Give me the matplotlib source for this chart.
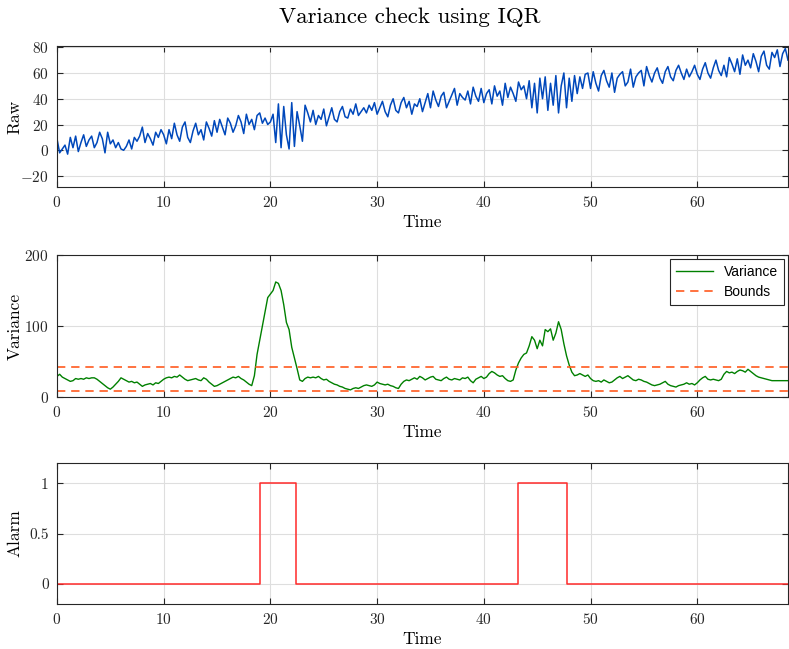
import numpy as np
import matplotlib
matplotlib.use('Agg')
import matplotlib.pyplot as plt

plt.rcParams['font.family'] = 'serif'
plt.rcParams['font.serif'] = ['cmr10', 'DejaVu Serif']
plt.rcParams['mathtext.fontset'] = 'cm'
plt.rcParams['axes.unicode_minus'] = False
plt.rcParams['axes.formatter.use_mathtext'] = True

# sample spacing of the time axis (0 .. 68.5)
dt = 0.25

raw = [9, -2, 1, 4, -3, 10, 2, 11, -1, 6, 12, 3, 8, 11, 2, 6, 14, 9, -2, 14,
       5, 8, 2, 6, 1, 0, 3, 8, 1, 10, 7, 11, 18, 6, 13, 9, 4, 14, 10, 16,
       12, 5, 16, 9, 21, 12, 7, 18, 22, 10, 6, 15, 21, 12, 16, 8, 22, 17, 11, 23,
       14, 24, 18, 12, 25, 21, 14, 19, 27, 22, 13, 28, 20, 24, 16, 27, 29, 21, 25, 20,
       22, 28, 6, 36, 2, 34, 12, 1, 37, 3, 30, 19, 7, 35, 29, 22, 31, 20, 27, 24,
       32, 19, 26, 33, 24, 22, 30, 34, 26, 25, 32, 28, 36, 27, 30, 33, 29, 35, 31, 37,
       28, 33, 38, 30, 26, 35, 40, 31, 29, 37, 41, 33, 38, 28, 36, 34, 40, 30, 37, 44,
       33, 46, 39, 34, 42, 45, 33, 38, 43, 48, 35, 44, 41, 39, 46, 36, 49, 42, 38, 48,
       37, 44, 47, 36, 50, 42, 46, 35, 52, 41, 49, 44, 38, 53, 47, 50, 40, 54, 33, 52,
       29, 56, 40, 57, 31, 52, 35, 58, 29, 50, 60, 33, 56, 38, 58, 44, 57, 48, 59, 60,
       48, 61, 52, 46, 58, 62, 54, 49, 60, 45, 56, 59, 61, 50, 53, 63, 49, 57, 60, 62,
       50, 65, 58, 53, 60, 64, 56, 52, 61, 65, 57, 54, 62, 66, 60, 55, 63, 57, 61, 66,
       59, 55, 63, 68, 60, 56, 64, 70, 62, 58, 66, 57, 72, 67, 61, 71, 59, 74, 66, 70,
       64, 75, 69, 61, 73, 77, 66, 63, 76, 72, 78, 65, 75, 79, 70]

variance = [29, 32, 28, 26, 24, 22, 23, 26, 25, 26, 25, 27, 26, 27, 27, 25, 22, 19, 16, 13,
            11, 14, 18, 22, 27, 25, 23, 21, 22, 20, 21, 18, 15, 17, 18, 19, 17, 20, 19, 22,
            25, 27, 28, 27, 29, 28, 31, 28, 25, 23, 24, 25, 26, 24, 23, 27, 25, 21, 18, 15,
            16, 18, 20, 22, 24, 26, 28, 27, 29, 26, 24, 21, 18, 16, 30, 60, 80, 100, 120, 140,
            145, 150, 162, 160, 150, 130, 105, 95, 70, 55, 40, 24, 22, 26, 28, 27, 28, 27, 29, 26,
            24, 25, 22, 20, 18, 17, 15, 14, 12, 11, 10, 12, 13, 12, 14, 16, 17, 16, 15, 17,
            21, 19, 18, 17, 18, 16, 15, 13, 12, 18, 22, 24, 23, 25, 27, 25, 29, 27, 24, 26,
            28, 29, 25, 24, 23, 26, 28, 25, 24, 26, 25, 24, 27, 26, 28, 23, 20, 25, 27, 29,
            26, 28, 33, 36, 34, 31, 29, 30, 26, 23, 22, 24, 38, 48, 55, 60, 62, 72, 85, 80,
            68, 80, 72, 95, 92, 96, 80, 90, 106, 95, 75, 58, 45, 35, 30, 31, 33, 31, 29, 31,
            26, 23, 22, 23, 21, 24, 22, 20, 21, 24, 27, 29, 26, 28, 30, 27, 24, 23, 25, 24,
            22, 21, 19, 17, 16, 17, 18, 20, 22, 18, 16, 15, 14, 16, 17, 18, 20, 18, 19, 17,
            20, 24, 27, 29, 25, 24, 25, 24, 23, 25, 32, 36, 34, 35, 33, 36, 38, 37, 35, 39,
            36, 33, 30, 28, 27, 26, 25, 24, 23, 23, 23, 23, 23, 23, 23]

bounds = [8, 42]

alarm_t = [0, 19.0, 19.0, 22.4, 22.4, 43.2, 43.2, 47.8, 47.8, 68.5]
alarm_v = [0, 0, 1, 1, 0, 0, 1, 1, 0, 0]

t = np.arange(len(raw)) * dt
t_end = t[-1]

fig = plt.figure(figsize=(7.89, 6.49), dpi=100)
fig.suptitle('Variance check using IQR', fontsize=16.5, x=0.519, y=0.988)

W = 0.9265
ax1 = fig.add_axes([0.0722, 0.7119, W, 0.2173])
ax2 = fig.add_axes([0.0722, 0.3883, W, 0.2188])
ax3 = fig.add_axes([0.0722, 0.0693, W, 0.2173])

ax1.plot(t, raw, color='#0048bb', lw=1.1)
ax1.set_ylim(-28.5, 81)
ax1.set_yticks([-20, 0, 20, 40, 60, 80])
ax1.set_ylabel('Raw')

ax2.plot(t, variance, color='#008000', lw=1.0, label='Variance')
ax2.axhline(bounds[0], color='#ff5a1f', lw=1.2, ls=(0, (5, 3.5)), label='Bounds')
ax2.axhline(bounds[1], color='#ff5a1f', lw=1.2, ls=(0, (5, 3.5)))
ax2.set_ylim(0, 200)
ax2.set_yticks([0, 100, 200])
ax2.set_ylabel('Variance')
leg = ax2.legend(loc='upper right', prop={'family': 'Liberation Sans', 'size': 10},
                 fancybox=False, framealpha=1, edgecolor='#262626',
                 handlelength=2.7, labelspacing=0.45, borderaxespad=0.3)
leg.get_frame().set_linewidth(0.8)

ax3.plot(alarm_t, alarm_v, color='#ff2a2a', lw=1.1)
ax3.set_ylim(-0.2, 1.2)
ax3.set_yticks([0, 0.5, 1])
ax3.set_yticklabels(['0', '0.5', '1'])
ax3.set_ylabel('Alarm')

for ax in (ax1, ax2, ax3):
    ax.set_xlim(0, t_end)
    ax.set_xticks([0, 10, 20, 30, 40, 50, 60])
    ax.set_xlabel('Time', fontsize=12.5, labelpad=3)
    ax.yaxis.label.set_size(12.5)
    ax.yaxis.set_label_coords(-0.047, 0.5)
    ax.grid(True, color='#dedede', lw=0.8)
    ax.set_axisbelow(True)
    ax.tick_params(direction='in', top=True, right=True, length=4, pad=6,
                   labelsize=11, colors='#262626', width=0.8)
    for s in ax.spines.values():
        s.set_color('#262626')
        s.set_linewidth(0.8)

fig.savefig('out.png', dpi=100)
